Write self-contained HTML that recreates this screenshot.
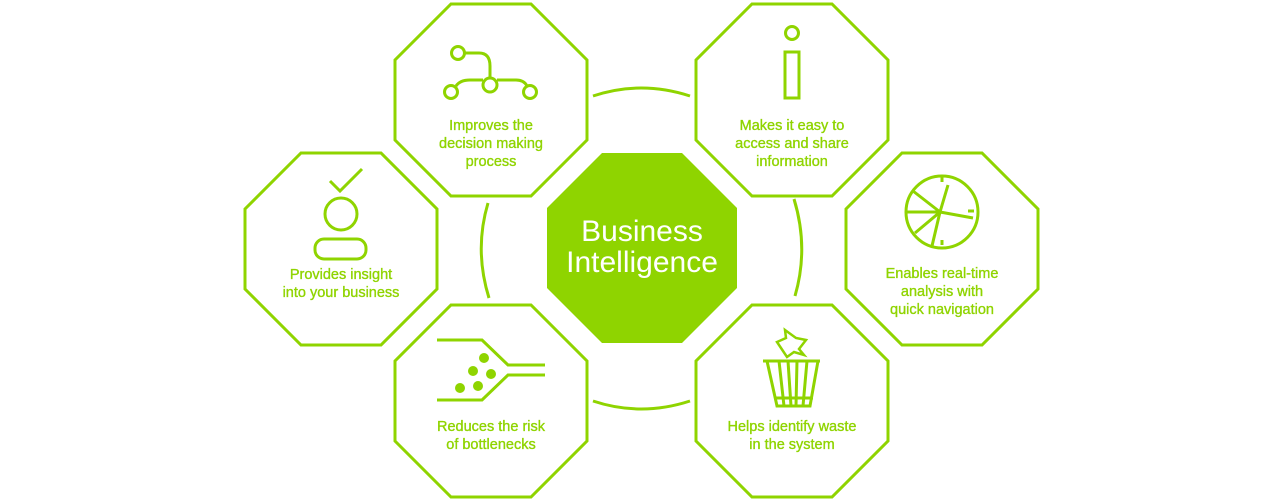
<!DOCTYPE html>
<html><head><meta charset="utf-8"><style>
html,body{margin:0;padding:0;background:#fff;width:1280px;height:500px;overflow:hidden}
svg text{font-family:"Liberation Sans",sans-serif;font-size:14.5px;fill:#8fd400;text-anchor:middle;stroke:#8fd400;stroke-width:0.35}
</style></head><body>
<svg width="1280" height="500" viewBox="0 0 1280 500" xmlns="http://www.w3.org/2000/svg">
<g fill="none" stroke="#8fd400" stroke-width="3" stroke-linejoin="miter">
<polygon points="451,4 531,4 587,60 587,140 531,196 451,196 395,140 395,60"/>
<polygon points="752,4 832,4 888,60 888,140 832,196 752,196 696,140 696,60"/>
<polygon points="301,153 381,153 437,209 437,289 381,345 301,345 245,289 245,209"/>
<polygon points="902,153 982,153 1038,209 1038,289 982,345 902,345 846,289 846,209"/>
<polygon points="451,305 531,305 587,361 587,441 531,497 451,497 395,441 395,361"/>
<polygon points="752,305 832,305 888,361 888,441 832,497 752,497 696,441 696,361"/>
<path d="M593,96 Q641,80 690,96"/>
<path d="M593,401 Q641,417 690,401"/>
<path d="M488,203 Q474,250 489,298"/>
<path d="M794,199 Q809,248 795,296"/>
</g>
<polygon fill="#8fd400" points="602,153 682,153 737,208 737,288 682,343 602,343 547,288 547,208"/>
<text x="642" y="241" style="font-size:30px;fill:#fff;stroke:none">Business</text>
<text x="642" y="272" style="font-size:30px;fill:#fff;stroke:none">Intelligence</text>
<g fill="none" stroke="#8fd400" stroke-width="3">
<circle cx="458" cy="53" r="6.5"/><circle cx="490" cy="85" r="7"/><circle cx="451" cy="92" r="6.5"/><circle cx="530" cy="92" r="6.5"/>
<path d="M465,53 H479 Q490,53 490,66 V78"/>
<path d="M456,86 Q460,80 470,80 H483 M497,80 H516 Q524,80 527,86"/>
<circle cx="792" cy="33" r="6.5"/>
<rect x="785" y="52" width="14" height="46"/>
<path d="M330,181 L340,191 L362,169"/>
<circle cx="341" cy="214" r="16"/>
<rect x="315" y="239" width="51" height="20" rx="9"/>
<circle cx="942" cy="212" r="36"/>
<path d="M907,212 H940 M913,191 L940,212 L915,233 M940,212 L948,185 M940,212 L932,246 M940,212 L973,218 M942,177 V182 M942,240 V245 M968,211 H974"/>
<path d="M437,340 H482 L508,365 H545 M437,400 H482 L508,375 H545"/>
<path d="M763,361 H820 M767,361 L777,406 H810 L818,361 M779,361 L784,406 M788,361 L791,406 M797,361 L796,406 M807,361 L803,406 M774,398 H813"/>
<path d="M785,330 L796,338 L806,340 L799,349 L804,355 L794,352 L787,357 L781,348 L777,342 L786,338 Z" stroke-width="2.5"/>
</g>
<g fill="#8fd400">
<circle cx="484" cy="358" r="5"/><circle cx="473" cy="371" r="5"/><circle cx="491" cy="374" r="5"/><circle cx="460" cy="388" r="5"/><circle cx="478" cy="386" r="5"/>
</g>
<text x="491" y="130">Improves the</text>
<text x="491" y="148">decision making</text>
<text x="491" y="166">process</text>
<text x="792" y="130">Makes it easy to</text>
<text x="792" y="148">access and share</text>
<text x="792" y="166">information</text>
<text x="341" y="279">Provides insight</text>
<text x="341" y="297">into your business</text>
<text x="942" y="278">Enables real-time</text>
<text x="942" y="296">analysis with</text>
<text x="942" y="314">quick  navigation</text>
<text x="491" y="431">Reduces the risk</text>
<text x="491" y="449">of bottlenecks</text>
<text x="792" y="431">Helps identify waste</text>
<text x="792" y="449">in the system</text>
</svg>
</body></html>
